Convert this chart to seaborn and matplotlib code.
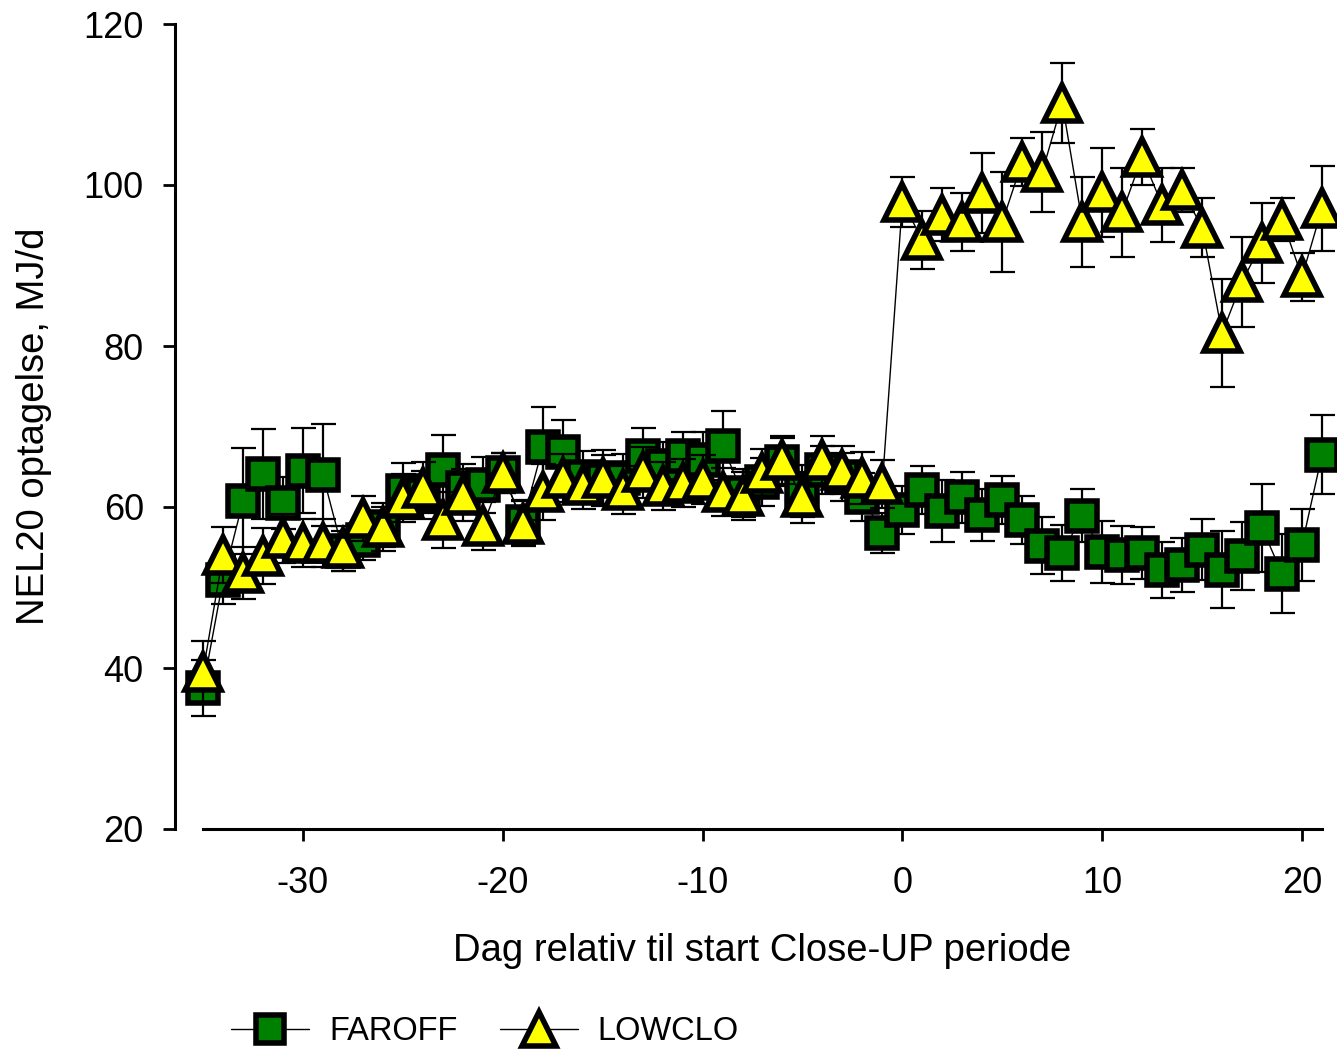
import numpy as np
import pandas as pd
import matplotlib
matplotlib.use("Agg")
import matplotlib.pyplot as plt
import seaborn as sns

days = list(range(-35, 22))

faroff = [37.5, 50.9, 60.7, 64.1, 60.5, 64.5, 64.0, 54.5, 55.9, 57.5,
          62.0, 61.5, 64.6, 62.4, 62.7, 64.2, 58.1, 67.4, 66.8, 63.7,
          63.4, 63.6, 66.3, 65.1, 66.3, 65.8, 67.6, 61.7, 63.1, 65.6,
          62.0, 64.6, 63.7, 61.2, 56.8, 59.6, 62.1, 59.5, 61.2, 59.0,
          60.9, 58.4, 55.2, 54.3, 58.9, 54.4, 54.0, 54.3, 52.2, 52.8,
          54.7, 52.2, 53.9, 57.4, 51.7, 55.3, 66.5]
faroff_se = [3.5, 3.0, 6.6, 5.6, 3.2, 5.3, 6.3, 2.5, 2.5, 2.5,
             3.5, 3.0, 4.3, 3.0, 3.5, 2.5, 2.8, 5.0, 4.0, 3.2,
             3.0, 3.0, 3.5, 3.0, 3.0, 3.5, 4.3, 3.0, 3.0, 3.0,
             3.2, 3.0, 3.0, 3.0, 2.5, 3.0, 3.0, 3.8, 3.2, 3.2,
             3.0, 3.0, 3.5, 3.5, 3.3, 3.8, 3.6, 3.2, 3.5, 3.4,
             3.8, 4.8, 4.2, 5.5, 4.9, 4.5, 4.9]

lowclo = [39.5, 54.0, 51.8, 53.9, 56.1, 55.5, 55.5, 54.9, 58.6, 57.5,
          61.1, 62.4, 58.4, 61.5, 57.6, 64.2, 57.9, 61.9, 63.6, 62.7,
          63.6, 62.1, 64.3, 62.6, 63.0, 63.4, 61.9, 61.4, 64.2, 65.8,
          61.2, 65.8, 64.6, 63.6, 62.9, 97.9, 93.2, 96.3, 95.4, 99.0,
          95.4, 102.9, 101.6, 110.2, 95.4, 99.1, 96.6, 103.5, 97.5, 99.4,
          94.7, 81.6, 88.0, 92.8, 95.7, 88.6, 97.1]
lowclo_se = [3.8, 3.5, 3.2, 3.5, 3.0, 3.0, 3.0, 2.8, 2.8, 3.0,
             3.0, 3.2, 3.5, 3.2, 3.0, 2.5, 2.8, 3.5, 3.0, 3.0,
             3.5, 3.0, 3.2, 3.0, 3.0, 3.0, 3.0, 3.0, 3.0, 3.0,
             3.2, 3.0, 3.0, 3.2, 3.0, 3.1, 3.6, 3.3, 3.6, 5.0,
             6.2, 3.0, 5.0, 5.0, 5.6, 5.5, 5.5, 3.5, 4.6, 2.7,
             3.7, 6.7, 5.6, 5.0, 2.7, 3.0, 5.3]

series_names = ["FAROFF", "LOWCLO"]
x_ticks = [-30, -20, -10, 0, 10, 20]
y_ticks = [20, 40, 60, 80, 100, 120]

df = pd.DataFrame({
    "dag": days * 2,
    "nel": faroff + lowclo,
    "se": faroff_se + lowclo_se,
    "grp": [series_names[0]] * len(days) + [series_names[1]] * len(days),
})

sns.set_theme(style="white")
plt.rcParams["font.family"] = ["Liberation Sans", "DejaVu Sans"]

fig = plt.figure(figsize=(13.37, 10.5), dpi=100)
ax = fig.add_axes([175 / 1337, 221 / 1050, (1322 - 175) / 1337, (829 - 24) / 1050])

styles = {
    "FAROFF": dict(marker="s", ms=21, mfc="#008000", z=3),
    "LOWCLO": dict(marker="^", ms=26, mfc="#FFFF00", z=5),
}

for name in series_names:
    sub = df[df["grp"] == name]
    st = styles[name]
    ax.errorbar(sub["dag"], sub["nel"], yerr=sub["se"], fmt="none",
                ecolor="black", elinewidth=1.6, capsize=9, capthick=1.6,
                zorder=st["z"] - 1, clip_on=False)
    sns.lineplot(data=sub, x="dag", y="nel", ax=ax, color="black",
                 linewidth=1.0, marker=st["marker"], markersize=st["ms"],
                 markerfacecolor=st["mfc"], markeredgecolor="black",
                 markeredgewidth=4.0, label=name, zorder=st["z"],
                 clip_on=False, errorbar=None)

ax.set_xlim(-36.4, 21)
ax.set_ylim(20, 120)
ax.set_xticks(x_ticks)
ax.set_yticks(y_ticks)
ax.set_xticklabels([str(t) for t in x_ticks])
ax.set_yticklabels([str(t) for t in y_ticks])

for s in ["top", "right"]:
    ax.spines[s].set_visible(False)
for s in ["left", "bottom"]:
    ax.spines[s].set_color("black")
    ax.spines[s].set_linewidth(2.2)
ax.spines["bottom"].set_bounds(-35, 21)
ax.spines["left"].set_bounds(20, 120)

ax.tick_params(axis="both", which="major", direction="out", length=8.5,
               width=2.0, color="black", labelsize=26, labelcolor="black",
               left=True, bottom=True)
ax.tick_params(axis="x", pad=18)
ax.tick_params(axis="y", pad=14)
ax.set_xlabel("Dag relativ til start Close-UP periode", fontsize=27.5,
              color="black")
ax.set_ylabel("NEL20 optagelse, MJ/d", fontsize=27.5, color="black")
ax.xaxis.set_label_coords((762 - 175) / 1147, -0.129)
ax.yaxis.set_label_coords(-0.107, 0.5)

leg = ax.legend(loc="center", bbox_to_anchor=(485 / 1337, 18 / 1050),
                bbox_transform=fig.transFigure, ncol=2, frameon=False,
                fontsize=23.5, handlelength=2.4, columnspacing=1.3,
                handletextpad=0.6, labelcolor="black")
for h in leg.legend_handles:
    h.set_markersize(h.get_markersize() * 0.95)

ax.set_facecolor("white")
fig.patch.set_facecolor("white")
fig.savefig("out.png", dpi=100, facecolor="white")
